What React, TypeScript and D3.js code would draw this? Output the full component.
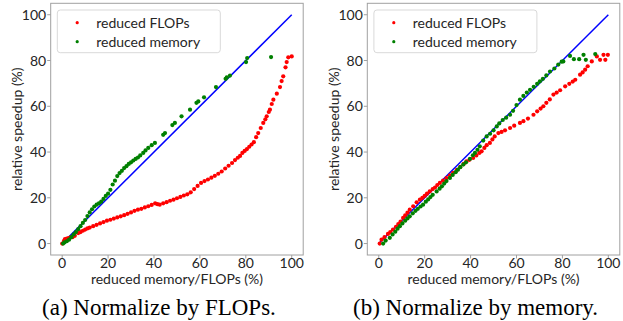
import * as d3 from 'd3';

type Pt = [number, number];

const ticks = [0, 20, 40, 60, 80, 100];
const xLabel = 'reduced memory/FLOPs (%)';
const yLabel = 'relative speedup (%)';
const seriesNames = ['reduced FLOPs', 'reduced memory'];
const seriesColors = ['#ff0000', '#008000'];
const captions = ['(a) Normalize by FLOPs.', '(b) Normalize by memory.'];

// (a) normalize by FLOPs
const flopsA: Pt[] = [
  [0, 0], [0.8, 1.2], [1.2, 2], [2, 2.2], [2.8, 2.4], [3.5, 2.6], [4.5, 2.8], [5.5, 3.4], [7, 4.6], [8, 5],
  [9, 5.6], [10, 6.1], [11, 6.6], [12, 7], [13.5, 7.6], [15, 8.2], [16.5, 8.8], [18, 9.4], [19.5, 10], [21, 10.4],
  [22.5, 10.9], [24, 11.4], [25.5, 11.9], [27, 12.4], [28.5, 13], [30, 13.6], [31.5, 14.3], [33, 14.8], [34.5, 15.2],
  [36, 15.8], [37.5, 16.3], [39, 16.9], [40.5, 17.6], [41.5, 17.2], [42.5, 17], [44, 17.6], [45.5, 18.1], [47, 18.7],
  [48.5, 19.2], [50, 19.8], [51.5, 20.4], [53, 21], [54.5, 21.5], [56, 22.4], [57.5, 23.8], [59, 25.2], [60.5, 26.5],
  [62, 27.3], [63.5, 28], [65, 28.8], [66.5, 29.6], [68, 30.5], [69.5, 31.5], [71, 32.8], [72.5, 34], [74, 35.2],
  [75.3, 36.5], [76.5, 37.5], [77.5, 38.3], [78.5, 39.6], [79.5, 40.5], [80.5, 41.3], [81.5, 42.3], [82.5, 43.3],
  [83.5, 44.3], [84.5, 46.5], [85.4, 48.3], [86.5, 50.5], [87.6, 52.7], [88.5, 54.3], [89.1, 55.6], [90, 57.5],
  [90.5, 58.5], [91.3, 61], [92, 62.9], [93.5, 65.5], [94.9, 68.4], [95.6, 71], [96.3, 73.1], [97.3, 77],
  [97.8, 79.3], [98.5, 81.4], [100, 81.8],
];
const memoryA: Pt[] = [
  [0.4, 0], [1, 0.5], [2, 1], [3, 1.7], [4, 2.8], [5, 4], [6, 5], [7, 6.3], [8, 7.6], [9, 9], [10, 10.3], [11, 12],
  [12, 13.6], [13, 15], [14, 16.2], [15, 17], [16, 17.6], [17, 18.3], [18, 19.5], [19, 20.8], [20, 21.8], [21, 23.5],
  [22, 25.8], [23, 27.5], [24, 29.5], [25, 30.8], [26, 31.8], [27, 33], [28, 33.8], [29, 34.8], [30, 35.5], [31, 36.3],
  [32, 37], [33, 37.6], [34, 38.5], [35.3, 39.6], [36.3, 40.7], [37.5, 41.8], [39, 43], [40.4, 44], [44, 47.5],
  [44.8, 48.3], [48, 51.8], [49.1, 52.7], [52, 55.6], [55.7, 58.5], [58.5, 61.5], [59.3, 62.1], [61.8, 63.9],
  [67, 68.4], [71.2, 72], [71.7, 72.6], [73.1, 73.4], [80.1, 79.3], [80.6, 81.1], [91, 81.5],
];

// (b) normalize by memory
const flopsB: Pt[] = [
  [0.4, 0], [1.2, 1.7], [2.5, 2.8], [4, 4.2], [5, 5], [6.2, 6.1], [7.5, 7.3], [8.5, 8.5], [9.5, 9.6], [10.6, 11.2],
  [11.5, 12.3], [12.5, 13.5], [13.5, 14.8], [15, 16.3], [16.5, 18], [17.9, 19.2], [19, 20], [20, 20.8], [21, 21.8],
  [22.2, 22.8], [23.5, 23.8], [24.5, 24.5], [25.5, 25.6], [26.6, 26.5], [28, 27.5], [29.5, 28.6], [31, 29.8],
  [32.4, 30.9], [34, 32.2], [35.5, 33.5], [37, 34.8], [38.2, 35.9], [39.5, 36.6], [41.1, 37.4], [42.5, 38.5],
  [43.8, 39.6], [44.8, 40.3], [46, 41.8], [47, 43], [48.4, 44], [49.5, 45.5], [50.5, 46.8], [52.1, 48.3], [53.5, 48.8],
  [55, 49.5], [57.2, 50.5], [59, 51.5], [61.5, 52.7], [63, 53.5], [65, 54.6], [67.4, 56.3], [69, 57.8], [70.5, 59],
  [71.7, 60], [73, 61.5], [74.5, 63], [76.1, 65.1], [77.5, 66], [79, 67], [81.2, 68.7], [83, 69.8], [84.5, 70.8],
  [85.6, 71.6], [87.7, 73.8], [88.8, 74.8], [89.9, 76], [91, 77.5], [92.8, 79.6], [95, 81.8], [96.4, 80.3],
  [97.9, 82.5], [98.7, 80.3], [99.8, 82.5],
];
const memoryB: Pt[] = [
  [1.9, 0], [3, 1.3], [4.8, 2.5], [6, 4], [7.2, 5.2], [8.2, 6.5], [9.2, 7.6], [10.3, 8.8], [11.5, 10], [12.5, 11],
  [13.5, 11.9], [14.8, 13.2], [16, 14.3], [17, 15.2], [18.2, 16.2], [19.3, 17], [20.5, 18.3], [21.5, 19.3],
  [22.5, 20.3], [23.5, 21.3], [25.2, 22.8], [26.5, 24], [27.5, 25], [28.5, 26.2], [29.5, 27.3], [31, 28.7],
  [32.2, 30], [33.5, 31.2], [34.5, 32.3], [35.5, 33.4], [36.8, 34.5], [38, 35.5], [39.7, 37], [41, 38.6], [41.9, 39.6],
  [43, 41], [44, 42.5], [45.5, 45], [47, 46.8], [48.5, 48], [50, 49.5], [51.4, 51.2], [52.5, 52.5], [54, 54],
  [55.5, 55], [57.2, 56.3], [58.5, 58], [60, 60.5], [61.5, 62.9], [63, 64.5], [64.5, 66], [65.9, 67.2], [67.5, 68.5],
  [69, 69.8], [70.2, 70.9], [71.5, 72], [73, 73.5], [74.6, 75.2], [76.5, 76.5], [78.2, 78.2], [79.7, 79.5],
  [80.4, 79.6], [83.3, 82], [85, 80.6], [87.3, 80.6], [89.2, 82.5], [90.2, 80.3], [94.3, 82.8],
];

const diagonal: Pt[] = [[0, 0], [100, 100]];

const sansFont = 'Lato, "Open Sans", sans-serif';
const textColor = '#262626';
const frameColor = '#a0a0a0';

function Panel({ left, series, caption }: { left: number; series: Pt[][]; caption: string }) {
  const top = 3.3;
  const w = 252.5;
  const h = 251.7;
  const x = d3.scaleLinear().domain([-5, 105]).range([0, w]);
  const y = d3.scaleLinear().domain([-5, 105]).range([h, 0]);
  const line = d3.line<Pt>().x((d) => x(d[0])).y((d) => y(d[1]));

  return (
    <g transform={`translate(${left},${top})`}>
      <rect x={0} y={0} width={w} height={h} fill="none" stroke={frameColor} />

      {ticks.map((t) => (
        <g key={`x${t}`}>
          <line x1={x(t)} x2={x(t)} y1={h} y2={h + 3.5} stroke={frameColor} />
          <text x={x(t)} y={h + 13.5} textAnchor="middle" fontSize={14} fill={textColor} fontFamily={sansFont}>
            {t}
          </text>
        </g>
      ))}
      {ticks.map((t) => (
        <g key={`y${t}`}>
          <line x1={-3.5} x2={0} y1={y(t)} y2={y(t)} stroke={frameColor} />
          <text x={-4.5} y={y(t)} dy="0.36em" textAnchor="end" fontSize={14} fill={textColor} fontFamily={sansFont}>
            {t}
          </text>
        </g>
      ))}

      <text x={w / 2} y={h + 29} textAnchor="middle" fontSize={14} fill={textColor} fontFamily={sansFont}>
        {xLabel}
      </text>
      <text
        transform={`translate(-28.5,${y(50)}) rotate(-90)`}
        textAnchor="middle"
        fontSize={14}
        fill={textColor}
        fontFamily={sansFont}
      >
        {yLabel}
      </text>

      <path d={line(diagonal) || ''} stroke="#0000ff" strokeWidth={1.5} fill="none" />

      {series.map((pts, i) =>
        pts.map((d, j) => (
          <circle key={`${i}-${j}`} cx={x(d[0])} cy={y(d[1])} r={2.1} fill={seriesColors[i]} />
        ))
      )}

      <rect x={6.6} y={6.7} width={163} height={42.7} rx={3} fill="#fff" fillOpacity={0.8} stroke="#d9d9d9" />
      {seriesNames.map((name, i) => (
        <g key={name} transform={`translate(0,${19.4 + i * 19})`}>
          <circle cx={26.5} cy={0} r={1.6} fill={seriesColors[i]} />
          <text x={45.5} y={0} dy="0.36em" fontSize={14} fill={textColor} fontFamily={sansFont}>
            {name}
          </text>
        </g>
      ))}

      <text
        x={w / 2 - 18}
        y={312}
        textAnchor="middle"
        fontSize={23}
        fill="#000"
        fontFamily='"Liberation Serif", "Times New Roman", serif'
      >
        {caption}
      </text>
    </g>
  );
}

export default function App() {
  return (
    <svg width={623} height={321} style={{ position: 'absolute', left: 0, top: 0, background: '#fff' }}>
      <Panel left={50.7} series={[flopsA, memoryA]} caption={captions[0]} />
      <Panel left={367.3} series={[flopsB, memoryB]} caption={captions[1]} />
    </svg>
  );
}
